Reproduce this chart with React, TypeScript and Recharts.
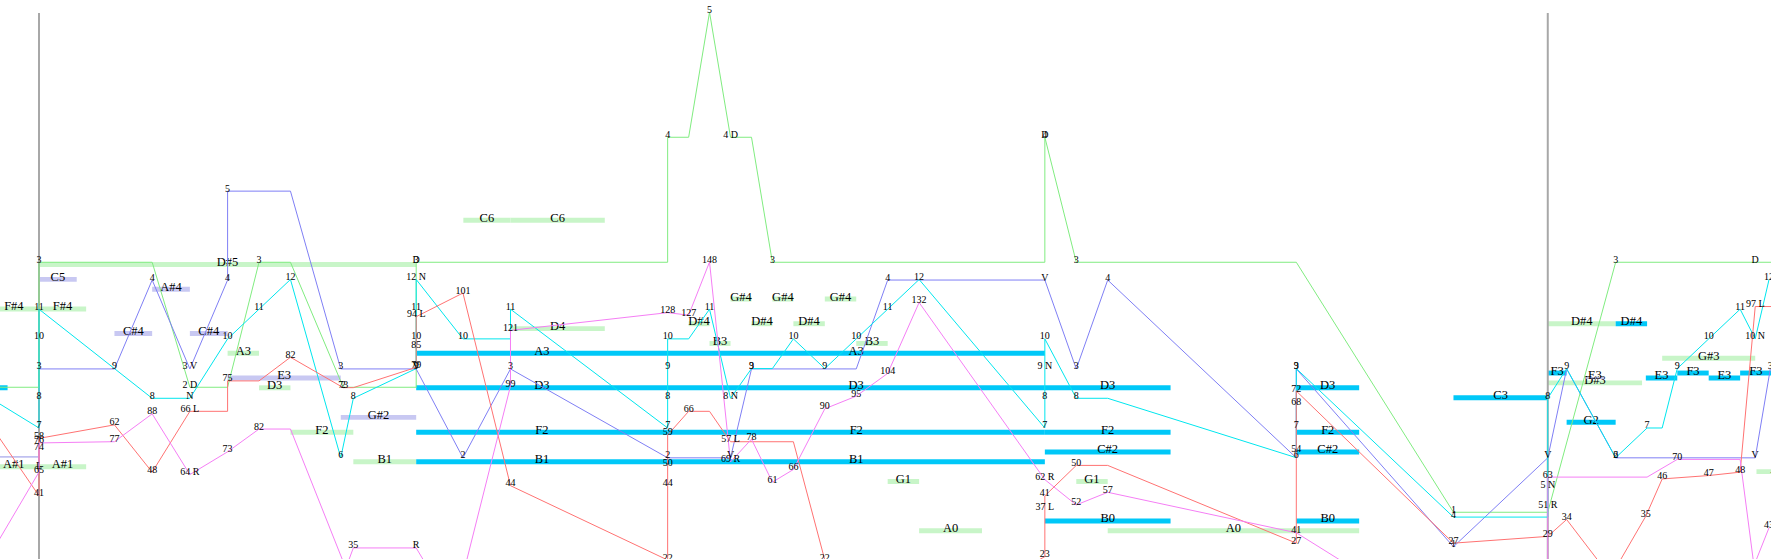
import React from 'react';
import { ComposedChart, Line, XAxis, YAxis, ReferenceArea, ReferenceLine, LabelList } from 'recharts';

type Pt = [number, number, string];

// time axis (beats) and value domains for the hidden axes
const T_DOMAIN: [number, number] = [-0.3102, 13.7755];
const PITCH_DOMAIN: [number, number] = [15.28, 128.66];
const GREEN_DOMAIN: [number, number] = [0.626, 5.098];
const BLUE_DOMAIN: [number, number] = [0.862, 7.15];
const CYAN_DOMAIN: [number, number] = [2.589, 21.41];
const RED_DOMAIN: [number, number] = [22.31, 187.69];
const MAGENTA_DOMAIN: [number, number] = [30.63, 251.58];

// [time, value, label]
const greenPts: Pt[] = [
  [-0.32, 2, ''], [0, 2, ''], [0, 3, '3'], [0.9, 3, ''], [1.2, 2, '2 D'], [1.5, 2, ''],
  [1.75, 3, '3'], [2.0, 3, ''], [2.42, 2, '2'], [3.0, 2, ''], [3.0, 3, '3'], [3.0, 3, 'D'],
  [5.0, 3, ''], [5.0, 4, '4'], [5.167, 4, ''], [5.333, 5, '5'], [5.5, 4, '4 D'], [5.667, 4, ''],
  [5.833, 3, '3'], [8.0, 3, ''], [8.0, 4, '4'], [8.0, 4, 'D'], [8.25, 3, '3'], [10.0, 3, ''],
  [11.25, 1, '1'], [12.0, 1, ''], [12.54, 3, '3'], [13.65, 3, 'D'], [13.9, 3, ''],
];

const bluePts: Pt[] = [
  [0, 3, '3'], [0.6, 3, ''], [0.9, 4, '4'], [1.2, 3, '3 V'], [1.5, 4, '4'], [1.5, 5, '5'],
  [2.0, 5, ''], [2.4, 3, '3'], [3.0, 3, 'V'], [3.372, 2, '2'], [3.75, 3, '3'], [5.0, 2, '2'],
  [5.5, 2, 'V'], [5.667, 3, '3'], [6.5, 3, ''], [6.75, 4, '4'], [8.0, 4, 'V'], [8.25, 3, '3'],
  [8.5, 4, '4'], [10.0, 2, ''], [10.0, 3, '3'], [11.25, 1, '1'], [12.0, 2, 'V'], [12.15, 3, ''],
  [12.54, 2, '2'], [13.65, 2, 'V'], [13.77, 3, '3'],
];

const cyanPts: Pt[] = [
  [-0.32, 7.83, ''], [0, 7, '7'], [0, 8, '8'], [0, 10, '10'], [0, 11, '11'], [0.6, 9, '9'],
  [0.9, 8, '8'], [1.2, 8, 'N'], [1.5, 10, '10'], [1.75, 11, '11'], [2.0, 12, '12'], [2.4, 6, '6'],
  [2.5, 8, '8'], [3.0, 9, '9'], [3.0, 10, '10'], [3.0, 11, '11'], [3.0, 12, '12 N'],
  [3.372, 10, '10'], [3.75, 10, ''], [3.75, 11, '11'], [5.0, 7, '7'], [5.0, 8, '8'], [5.0, 9, '9'],
  [5.0, 10, '10'], [5.167, 10, ''], [5.333, 11, '11'], [5.5, 8, '8 N'], [5.667, 9, '9'],
  [5.833, 9, ''], [6.0, 10, '10'], [6.25, 9, '9'], [6.5, 10, '10'], [6.75, 11, '11'],
  [7.0, 12, '12'], [8.0, 7, '7'], [8.0, 8, '8'], [8.0, 9, '9 N'], [8.0, 10, '10'], [8.25, 8, '8'],
  [8.5, 8, ''], [10.0, 6, '6'], [10.0, 7, '7'], [10.0, 9, '9'], [11.25, 4, '4'], [12.0, 4, ''],
  [12.0, 5, '5 N'], [12.0, 8, '8'], [12.15, 9, '9'], [12.54, 6, '6'], [12.79, 7, '7'],
  [12.91, 7, ''], [13.03, 9, '9'], [13.28, 10, '10'], [13.53, 11, '11'], [13.65, 10, '10 N'],
  [13.76, 12, '12'],
];

const redPts: Pt[] = [
  [-0.32, 58.4, ''], [0, 41, '41'], [0, 49, 'L'], [0, 58, '58'], [0.6, 62, '62'], [0.9, 48, '48'],
  [1.2, 66, '66 L'], [1.5, 66, ''], [1.5, 75, '75'], [1.75, 75, ''], [2.0, 82, '82'],
  [2.42, 73, '73'], [2.5, 73, ''], [3.0, 79, '79'], [3.0, 85, '85'], [3.0, 94, '94 L'],
  [3.372, 101, '101'], [3.75, 44, '44'], [5.0, 22, '22'], [5.0, 44, '44'], [5.0, 50, '50'],
  [5.0, 59, '59'], [5.167, 66, '66'], [5.333, 66, ''], [5.5, 57, '57 L'], [6.0, 57, ''],
  [6.25, 22, '22'], [7.1, 5, ''], [8.0, 23, '23'], [8.0, 37, '37 L'], [8.0, 41, '41'],
  [8.25, 50, '50'], [8.5, 50, ''], [10.0, 27, '27'], [10.0, 54, '54'], [10.0, 68, '68'],
  [10.0, 72, '72'], [11.25, 27, '27'], [12.0, 29, '29'], [12.15, 34, '34'], [12.5, 17, ''],
  [12.78, 35, '35'], [12.91, 46, '46'], [13.28, 47, '47'], [13.53, 48, '48'], [13.65, 97, '97 L'],
  [13.9, 97, ''],
];

const magentaPts: Pt[] = [
  [-0.32, 38, ''], [0, 65, '65'], [0, 74, '74'], [0, 76.5, '76'], [0.6, 77, '77'], [0.9, 88, '88'],
  [1.2, 64, '64 R'], [1.5, 73, '73'], [1.75, 82, '82'], [2.0, 82, ''], [2.44, 27, ''],
  [2.5, 35, '35'], [3.0, 35, 'R'], [3.3, 10, ''], [3.75, 99, '99'], [3.75, 121, '121'],
  [5.0, 128, '128'], [5.167, 127, '127'], [5.333, 148, '148'], [5.5, 69, '69 R'], [5.667, 78, '78'],
  [5.833, 61, '61'], [6.0, 66, '66'], [6.25, 90, '90'], [6.5, 95, '95'], [6.75, 104, '104'],
  [7.0, 132, '132'], [8.0, 62, '62 R'], [8.25, 52, '52'], [8.5, 57, '57'], [10.0, 41, '41'],
  [11.0, 10, ''], [12.0, 10, ''], [12.0, 51, '51 R'], [12.0, 63, '63'], [12.79, 63, ''],
  [13.03, 70, '70'], [13.53, 70, ''], [13.64, 28, ''], [13.76, 43, '43'],
];

// note bars: [name, start, end, kind]  G=green L=lavender C=cyan T=thin(no label) S=thin(with label)
const noteBars: [string, number, number, string][] = [
  ['F#4', -0.4, 0, 'G'], ['F#4', 0, 0.375, 'G'], ['A#1', -0.4, 0, 'G'], ['A#1', 0, 0.375, 'G'],
  ['C2', -0.5, 0, 'T'], ['D3', -0.7, -0.25, 'C'],
  ['D#5', 0, 3, 'G'], ['C5', 0, 0.3, 'L'], ['C#4', 0.6, 0.9, 'L'], ['A#4', 0.9, 1.2, 'L'],
  ['C#4', 1.2, 1.5, 'L'], ['E3', 1.5, 2.4, 'L'], ['A3', 1.5, 1.75, 'G'], ['D3', 1.75, 2.0, 'G'],
  ['F2', 2.0, 2.5, 'G'], ['G#2', 2.4, 3.0, 'L'], ['B1', 2.5, 3.0, 'G'],
  ['C6', 3.375, 3.75, 'G'], ['C6', 3.75, 4.5, 'G'], ['D4', 3.75, 4.5, 'G'],
  ['D#4', 5.167, 5.333, 'G'], ['B3', 5.333, 5.5, 'G'], ['G#4', 5.5, 5.667, 'G'],
  ['D#4', 5.667, 5.833, 'G'], ['G#4', 5.833, 6.0, 'G'], ['D#4', 6.0, 6.25, 'G'],
  ['G#4', 6.25, 6.5, 'G'], ['B3', 6.5, 6.75, 'G'], ['G1', 6.75, 7.0, 'G'], ['A0', 7.0, 7.5, 'G'],
  ['G1', 8.25, 8.5, 'G'], ['A0', 8.5, 10.5, 'G'],
  ['A3', 3, 5, 'C'], ['A3', 5, 8, 'C'], ['D3', 3, 5, 'C'], ['D3', 5, 8, 'C'], ['D3', 8, 9, 'C'],
  ['F2', 3, 5, 'C'], ['F2', 5, 8, 'C'], ['F2', 8, 9, 'C'], ['B1', 3, 5, 'C'], ['B1', 5, 8, 'C'],
  ['C#2', 8, 9, 'C'], ['B0', 8, 9, 'C'],
  ['D3', 10, 10.5, 'C'], ['F2', 10, 10.5, 'C'], ['C#2', 10, 10.5, 'C'], ['B0', 10, 10.5, 'C'],
  ['C3', 11.25, 12, 'C'], ['D#3', 12, 12.75, 'G'], ['D#4', 12, 12.54, 'G'], ['D#4', 12.54, 12.79, 'C'],
  ['F3', 12, 12.15, 'C'], ['G2', 12.15, 12.54, 'C'], ['E3', 12.3, 12.45, 'S'],
  ['G#3', 12.91, 13.65, 'G'], ['E3', 12.78, 13.03, 'C'], ['F3', 13.03, 13.28, 'C'],
  ['E3', 13.28, 13.53, 'C'], ['F3', 13.53, 13.78, 'C'], ['A1', 13.66, 14.0, 'G'],
];

const barLines: number[] = [0, 12];

const PC: Record<string, number> = { C: 0, D: 2, E: 4, F: 5, G: 7, A: 9, B: 11 };
const midi = (n: string) => {
  const sharp = n.includes('#') ? 1 : 0;
  const oct = parseInt(n.slice(sharp ? 2 : 1), 10);
  return 12 * (oct + 1) + PC[n[0]] + sharp;
};

const FILL: Record<string, string> = { G: '#c8f5c8', L: '#c8c8f2', C: '#00c8f8', T: '#c0c0f0', S: '#b8b8e0' };

const toRows = (pts: Pt[]) => pts.map(([t, v, lab]) => ({ t, v, lab }));

const FONT = 'serif';

const ValueLabel = (props: any) => {
  const { value } = props;
  if (value === '' || value == null) return null;
  const x = props.x ?? props.viewBox?.x;
  const y = props.y ?? props.viewBox?.y;
  return (
    <text x={x} y={y + 0.5} textAnchor="middle" fontSize={10} fill="#000" fontFamily={FONT}>
      {value}
    </text>
  );
};

const makeNoteLabel = (text: string) => (p: any) => {
  const vb = p.viewBox || {};
  const cx = vb.x + vb.width / 2;
  const cy = vb.y + vb.height / 2;
  return (
    <text x={cx} y={cy + 1.5} textAnchor="middle" fontSize={12.5} fill="#000" fontFamily={FONT}>
      {text}
    </text>
  );
};

const series = [
  { id: 'g', pts: greenPts, domain: GREEN_DOMAIN, color: '#80ec80' },
  { id: 'b', pts: bluePts, domain: BLUE_DOMAIN, color: '#7f7ff5' },
  { id: 'c', pts: cyanPts, domain: CYAN_DOMAIN, color: '#00e6ee' },
  { id: 'r', pts: redPts, domain: RED_DOMAIN, color: '#ff7272' },
  { id: 'm', pts: magentaPts, domain: MAGENTA_DOMAIN, color: '#f57ef5' },
];

export default function App() {
  return (
    <div style={{ position: 'absolute', left: 0, top: 0, background: '#fff' }}>
      <ComposedChart width={1771} height={559} margin={{ top: 0, right: 0, bottom: 0, left: 0 }}>
        <XAxis type="number" dataKey="t" domain={T_DOMAIN} allowDataOverflow hide />
        <YAxis yAxisId="p" type="number" domain={PITCH_DOMAIN} allowDataOverflow hide />
        {series.map((s) => (
          <YAxis key={s.id} yAxisId={s.id} type="number" domain={s.domain} allowDataOverflow hide />
        ))}
        {barLines.map((t) => (
          <ReferenceLine
            key={'bl' + t}
            yAxisId="p"
            segment={[{ x: t, y: 126.0 }, { x: t, y: PITCH_DOMAIN[0] }]}
            stroke="#a8a8a8"
            strokeWidth={2}
            ifOverflow="visible"
          />
        ))}
        {noteBars.map(([name, t0, t1, kind], i) => {
          const m = midi(name);
          const thin = kind === 'T' || kind === 'S';
          const h = thin ? 0.18 : 0.5;
          return (
            <ReferenceArea
              key={'n' + i}
              yAxisId="p"
              x1={t0}
              x2={t1}
              y1={m - h}
              y2={m + h}
              fill={FILL[kind]}
              fillOpacity={1}
              stroke="none"
              ifOverflow="hidden"
              label={kind === 'T' ? undefined : makeNoteLabel(name)}
            />
          );
        })}
        {series.map((s) => (
          <Line
            key={'l' + s.id}
            yAxisId={s.id}
            data={toRows(s.pts)}
            dataKey="v"
            type="linear"
            stroke={s.color}
            strokeWidth={1}
            dot={false}
            activeDot={false}
            isAnimationActive={false}
          >
            <LabelList dataKey="lab" content={ValueLabel} />
          </Line>
        ))}
      </ComposedChart>
    </div>
  );
}
